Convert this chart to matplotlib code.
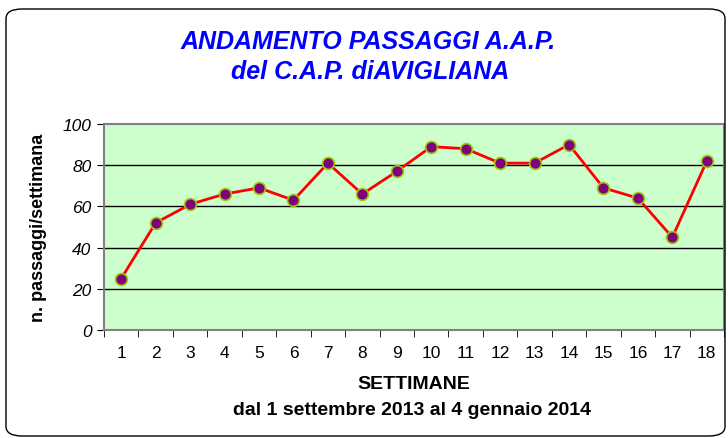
import matplotlib
matplotlib.use("Agg")
import matplotlib.pyplot as plt
from matplotlib.patches import FancyBboxPatch

weeks = list(range(1, 19))
passaggi = [25, 52, 61, 66, 69, 63, 81, 66, 77, 89, 88, 81, 81, 90, 69, 64, 45, 82]
yticks = [0, 20, 40, 60, 80, 100]

plt.rcParams['font.family'] = ['Liberation Sans', 'DejaVu Sans']

fig = plt.figure(figsize=(7.28, 4.39), dpi=100)
W, H = 728, 439

# rounded border
border = FancyBboxPatch((6 / W, 2 / H), 719 / W, 427 / H,
                        boxstyle="round,pad=0,rounding_size=0.022",
                        transform=fig.transFigure, fill=False,
                        edgecolor='black', linewidth=1.0)
fig.patches.append(border)

ax = fig.add_axes([104 / W, 1 - 331 / H, 620 / W, 206 / H])
ax.set_facecolor('#CCFFCC')
ax.plot(weeks, passaggi, color='#FF0000', linewidth=2, marker='o',
        markersize=8.5, markerfacecolor='#800080', markeredgecolor='#99CC00',
        markeredgewidth=1.2, zorder=3)
ax.set_xlim(0.5, 18.5)
ax.set_ylim(0, 100)
ax.set_yticks(yticks)
ax.set_yticklabels([str(v) for v in yticks], fontstyle='italic', fontsize=12.5)
ax.set_xticks(weeks)
ax.set_xticklabels([str(w) for w in weeks], fontsize=12.5)
ax.set_xticks([w + 0.5 for w in range(0, 19)], minor=True)
ax.tick_params(axis='x', which='major', length=0, pad=11)
ax.tick_params(axis='x', which='minor', length=5, direction='out', color='black')
ax.tick_params(axis='y', length=5, direction='out', pad=4)
for y in yticks[1:-1]:
    ax.axhline(y, color='black', linewidth=1, zorder=1)
for s in ['top', 'right', 'left', 'bottom']:
    ax.spines[s].set_color('#808080')
    ax.spines[s].set_linewidth(1.5)

ax.set_ylabel('n. passaggi/settimana', fontsize=13, fontweight='bold', labelpad=11)

fig.text(368 / W, 1 - 42 / H, 'ANDAMENTO PASSAGGI A.A.P.', ha='center', va='center',
         color='#0000FF', fontsize=18, fontweight='bold', fontstyle='italic')
fig.text(370 / W, 1 - 72 / H, 'del C.A.P. diAVIGLIANA', ha='center', va='center',
         color='#0000FF', fontsize=18, fontweight='bold', fontstyle='italic')
fig.text(414 / W, 1 - 385 / H, 'SETTIMANE', ha='center', va='center',
         fontsize=14, fontweight='bold')
fig.text(412 / W, 1 - 411 / H, 'dal 1 settembre 2013 al 4 gennaio 2014', ha='center',
         va='center', fontsize=14, fontweight='bold')

fig.savefig('out.png', dpi=100)
